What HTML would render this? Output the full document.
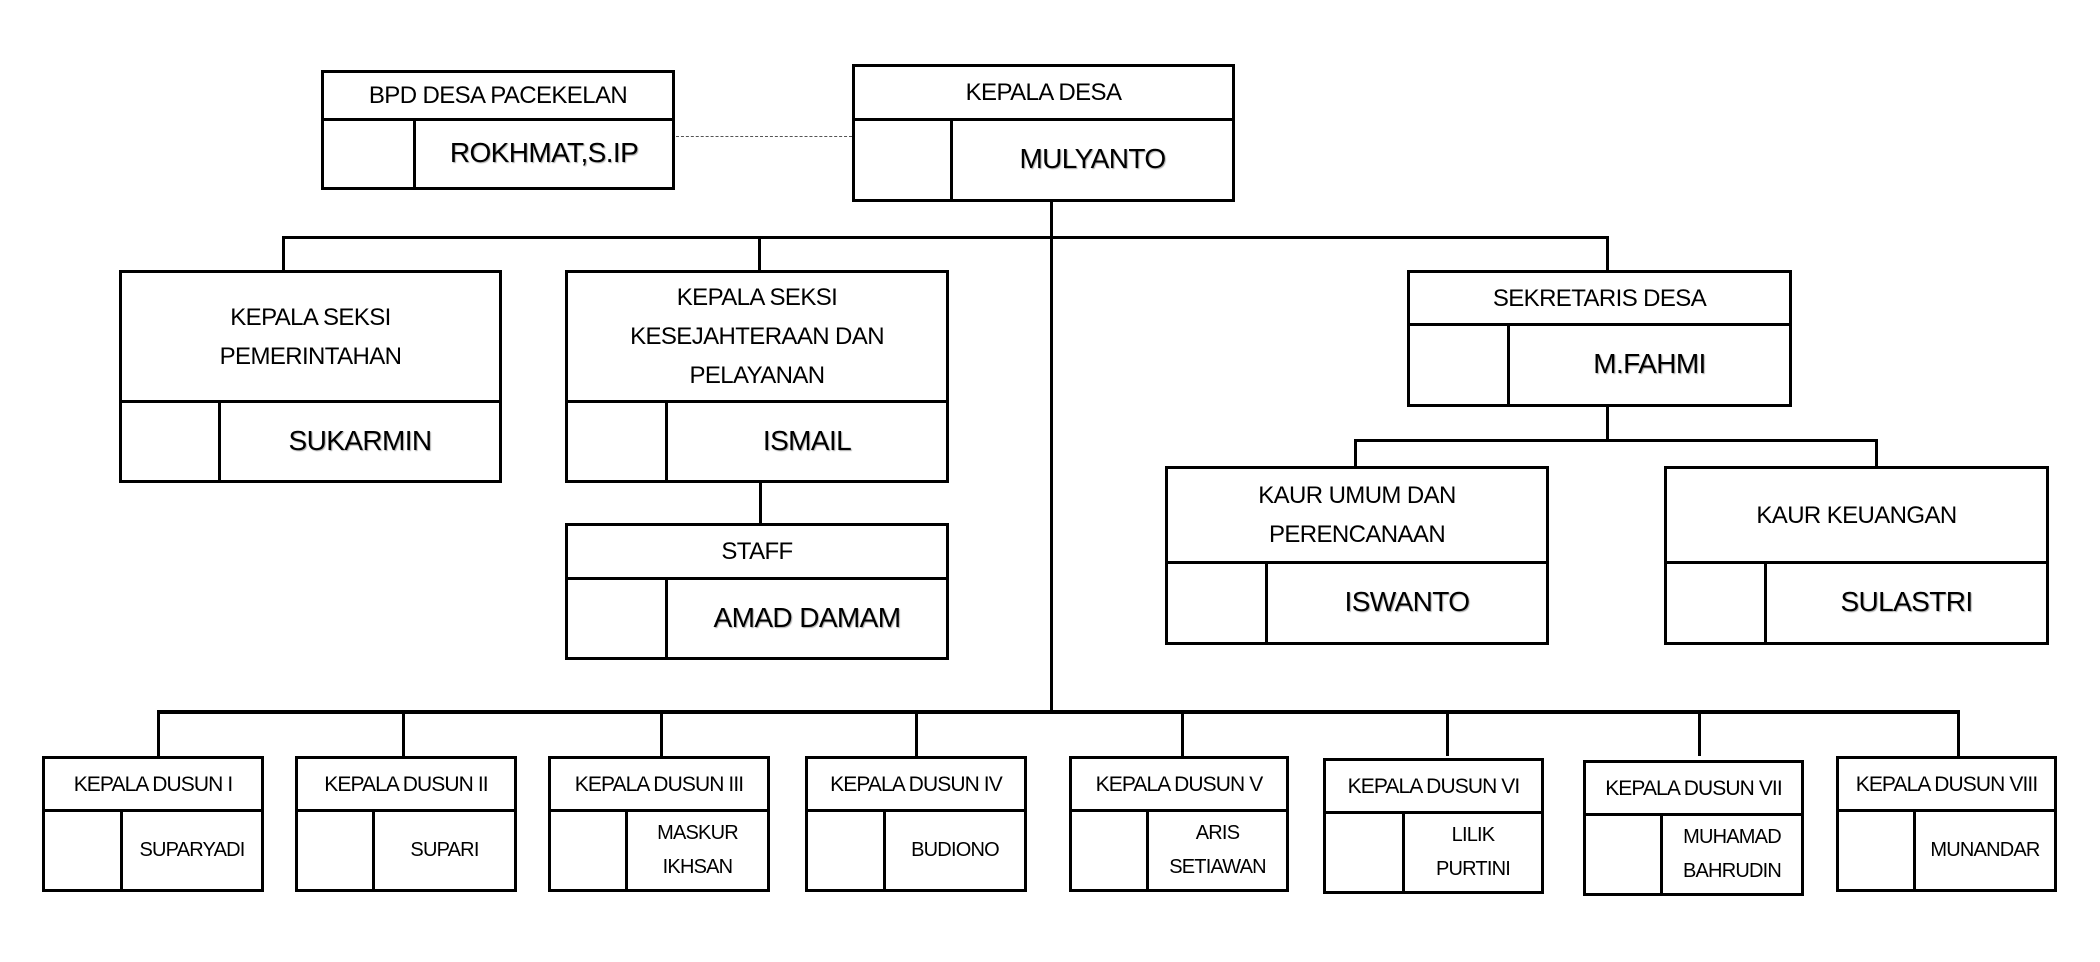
<!DOCTYPE html>
<html><head><meta charset="utf-8"><style>
body{margin:0;width:2100px;height:962px;background:#fff;position:relative;overflow:hidden;font-family:"Liberation Sans",sans-serif;color:#000}
.b{position:absolute;border:3px solid #000;box-sizing:border-box}
.h{position:absolute;left:0;right:0;top:0;border-bottom:3.5px solid #000;box-sizing:border-box;display:flex;align-items:center;justify-content:center;text-align:center;font-size:24px;line-height:39px;letter-spacing:-0.6px}
.v{position:absolute;width:3px;background:#000;bottom:0}
.n{position:absolute;right:0;bottom:0;display:flex;align-items:center;justify-content:center;text-align:center;font-size:28px;letter-spacing:-0.6px;text-shadow:1px 1px 1px #aaa}
.l{position:absolute;background:#000}
.d .h{font-size:21px;letter-spacing:-0.9px}
.d .n{font-size:20px;line-height:34px;letter-spacing:-0.8px;text-shadow:none}
</style></head><body>
<div class="l" style="left:676px;top:136px;width:176px;height:0;border-top:1.5px dashed #555;background:none"></div>
<div class="l" style="left:1050px;top:202px;width:3px;height:510px"></div>
<div class="l" style="left:282px;top:236px;width:1327px;height:3px"></div>
<div class="l" style="left:282px;top:236px;width:3px;height:34px"></div>
<div class="l" style="left:758px;top:236px;width:3px;height:34px"></div>
<div class="l" style="left:1606px;top:236px;width:3px;height:34px"></div>
<div class="l" style="left:759px;top:483px;width:3px;height:40px"></div>
<div class="l" style="left:1606px;top:407px;width:3px;height:33px"></div>
<div class="l" style="left:1354px;top:439px;width:524px;height:3px"></div>
<div class="l" style="left:1354px;top:439px;width:3px;height:27px"></div>
<div class="l" style="left:1875px;top:439px;width:3px;height:27px"></div>
<div class="l" style="left:157px;top:710px;width:1803px;height:3.5px"></div>
<div class="l" style="left:157px;top:710px;width:3px;height:46px"></div>
<div class="l" style="left:402px;top:710px;width:3px;height:46px"></div>
<div class="l" style="left:660px;top:710px;width:3px;height:46px"></div>
<div class="l" style="left:915px;top:710px;width:3px;height:46px"></div>
<div class="l" style="left:1181px;top:710px;width:3px;height:46px"></div>
<div class="l" style="left:1446px;top:710px;width:3px;height:46px"></div>
<div class="l" style="left:1698px;top:710px;width:3px;height:46px"></div>
<div class="l" style="left:1957px;top:710px;width:3px;height:46px"></div>

<div class="b" style="left:321px;top:70px;width:354px;height:120px"><div class="h" style="height:48px">BPD DESA PACEKELAN</div><div class="v" style="left:89px;top:46px"></div><div class="n" style="left:92px;top:46px">ROKHMAT,S.IP</div></div>
<div class="b" style="left:852px;top:64px;width:383px;height:138px"><div class="h" style="height:54px">KEPALA DESA</div><div class="v" style="left:95px;top:52px"></div><div class="n" style="left:98px;top:52px">MULYANTO</div></div>
<div class="b" style="left:119px;top:270px;width:383px;height:213px"><div class="h" style="height:130px">KEPALA SEKSI<br>PEMERINTAHAN</div><div class="v" style="left:96px;top:128px"></div><div class="n" style="left:99px;top:128px">SUKARMIN</div></div>
<div class="b" style="left:565px;top:270px;width:384px;height:213px"><div class="h" style="height:130px">KEPALA SEKSI<br>KESEJAHTERAAN DAN<br>PELAYANAN</div><div class="v" style="left:97px;top:128px"></div><div class="n" style="left:100px;top:128px">ISMAIL</div></div>
<div class="b" style="left:565px;top:523px;width:384px;height:137px"><div class="h" style="height:54px">STAFF</div><div class="v" style="left:97px;top:52px"></div><div class="n" style="left:100px;top:52px">AMAD DAMAM</div></div>
<div class="b" style="left:1407px;top:270px;width:385px;height:137px"><div class="h" style="height:53px">SEKRETARIS DESA</div><div class="v" style="left:97px;top:51px"></div><div class="n" style="left:100px;top:51px">M.FAHMI</div></div>
<div class="b" style="left:1165px;top:466px;width:384px;height:179px"><div class="h" style="height:95px">KAUR UMUM DAN<br>PERENCANAAN</div><div class="v" style="left:97px;top:93px"></div><div class="n" style="left:100px;top:93px">ISWANTO</div></div>
<div class="b" style="left:1664px;top:466px;width:385px;height:179px"><div class="h" style="height:95px">KAUR KEUANGAN</div><div class="v" style="left:97px;top:93px"></div><div class="n" style="left:100px;top:93px">SULASTRI</div></div>

<div class="b d" style="left:42px;top:756px;width:222px;height:136px"><div class="h" style="height:53px">KEPALA DUSUN I</div><div class="v" style="left:75px;top:51px"></div><div class="n" style="left:78px;top:51px">SUPARYADI</div></div>
<div class="b d" style="left:295px;top:756px;width:222px;height:136px"><div class="h" style="height:53px">KEPALA DUSUN II</div><div class="v" style="left:74px;top:51px"></div><div class="n" style="left:77px;top:51px">SUPARI</div></div>
<div class="b d" style="left:548px;top:756px;width:222px;height:136px"><div class="h" style="height:53px">KEPALA DUSUN III</div><div class="v" style="left:74px;top:51px"></div><div class="n" style="left:77px;top:51px">MASKUR<br>IKHSAN</div></div>
<div class="b d" style="left:805px;top:756px;width:222px;height:136px"><div class="h" style="height:53px">KEPALA DUSUN IV</div><div class="v" style="left:75px;top:51px"></div><div class="n" style="left:78px;top:51px">BUDIONO</div></div>
<div class="b d" style="left:1069px;top:756px;width:220px;height:136px"><div class="h" style="height:53px">KEPALA DUSUN V</div><div class="v" style="left:74px;top:51px"></div><div class="n" style="left:77px;top:51px">ARIS<br>SETIAWAN</div></div>
<div class="b d" style="left:1323px;top:758px;width:221px;height:136px"><div class="h" style="height:53px">KEPALA DUSUN VI</div><div class="v" style="left:76px;top:51px"></div><div class="n" style="left:79px;top:51px">LILIK<br>PURTINI</div></div>
<div class="b d" style="left:1583px;top:760px;width:221px;height:136px"><div class="h" style="height:53px">KEPALA DUSUN VII</div><div class="v" style="left:74px;top:51px"></div><div class="n" style="left:77px;top:51px">MUHAMAD<br>BAHRUDIN</div></div>
<div class="b d" style="left:1836px;top:756px;width:221px;height:136px"><div class="h" style="height:53px">KEPALA DUSUN VIII</div><div class="v" style="left:74px;top:51px"></div><div class="n" style="left:77px;top:51px">MUNANDAR</div></div>
</body></html>
